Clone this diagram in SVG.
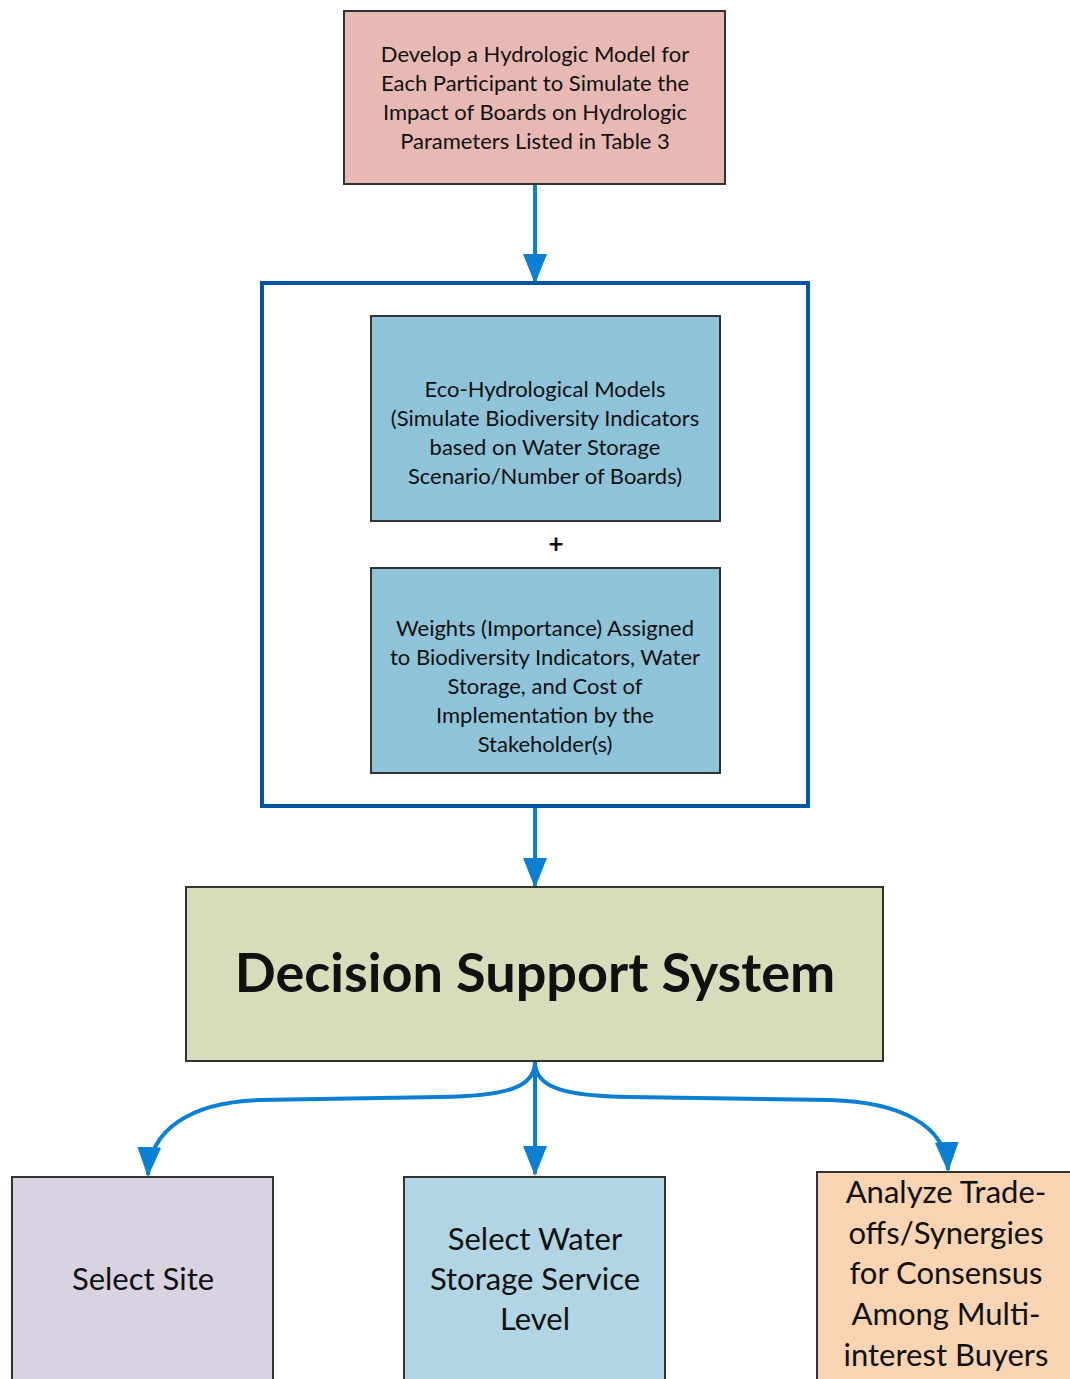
<svg xmlns="http://www.w3.org/2000/svg" width="1070" height="1379" viewBox="0 0 1070 1379">
<defs>
<style>
.t{font-family:Lato,"Open Sans","Liberation Sans",sans-serif;fill:#111;text-anchor:middle}
.s{font-size:22px}
.b{font-size:31px}
.box{stroke:#333;stroke-width:2}
.con{fill:none;stroke:#0a7fd4;stroke-width:4}
</style>
<marker id="ad" markerUnits="userSpaceOnUse" markerWidth="30" markerHeight="24" refX="28" refY="12" orient="auto" viewBox="0 0 30 24">
<path d="M0,0 L30,12 L0,24 Z" fill="#0a7fd4"/>
</marker>
</defs>
<rect width="1070" height="1379" fill="#ffffff"/>
<g id="connectors">
<path class="con" d="M535,184 L535,282" marker-end="url(#ad)"/>
<path class="con" d="M535,808 L535,886" marker-end="url(#ad)"/>
<path class="con" d="M535,1062 L535,1174" marker-end="url(#ad)"/>
<path class="con" d="M535,1062 C535,1088 505,1096 440,1097 L260,1100 C190,1102 150,1130 148,1175" marker-end="url(#ad)"/>
<path class="con" d="M535,1062 C535,1088 565,1096 630,1097 L830,1100 C900,1102 946,1125 948,1170" marker-end="url(#ad)"/>
</g>
<g id="hydro">
<rect class="box" x="344" y="11" width="381" height="173" fill="#e8b9b4"/>
<text class="t s" x="535" y="62">Develop a Hydrologic Model for</text>
<text class="t s" x="535" y="91">Each Participant to Simulate the</text>
<text class="t s" x="535" y="120">Impact of Boards on Hydrologic</text>
<text class="t s" x="535" y="149">Parameters Listed in Table 3</text>
</g>
<g id="frame">
<rect x="262" y="283" width="546" height="523" fill="none" stroke="#0055a5" stroke-width="4"/>
</g>
<g id="eco">
<rect class="box" x="371" y="316" width="349" height="205" fill="#8fc3d9"/>
<text class="t s" x="545" y="397">Eco-Hydrological Models</text>
<text class="t s" x="545" y="426">(Simulate Biodiversity Indicators</text>
<text class="t s" x="545" y="455">based on Water Storage</text>
<text class="t s" x="545" y="484">Scenario/Number of Boards)</text>
</g>
<g id="plus">
<text class="t" x="556" y="553" font-size="26" font-weight="bold">+</text>
</g>
<g id="weights">
<rect class="box" x="371" y="568" width="349" height="205" fill="#8fc3d9"/>
<text class="t s" x="545" y="636">Weights (Importance) Assigned</text>
<text class="t s" x="545" y="665">to Biodiversity Indicators, Water</text>
<text class="t s" x="545" y="694">Storage, and Cost of</text>
<text class="t s" x="545" y="723">Implementation by the</text>
<text class="t s" x="545" y="752">Stakeholder(s)</text>
</g>
<g id="dss">
<rect class="box" x="186" y="887" width="697" height="174" fill="#d8dcbb"/>
<text class="t" x="535" y="992" font-size="54" font-weight="bold">Decision Support System</text>
</g>
<g id="site">
<rect class="box" x="12" y="1177" width="261" height="210" fill="#d9d2e0"/>
<text class="t b" x="143" y="1290">Select Site</text>
</g>
<g id="water">
<rect class="box" x="404" y="1177" width="261" height="210" fill="#b1d5e5"/>
<text class="t b" x="535" y="1250">Select Water</text>
<text class="t b" x="535" y="1290">Storage Service</text>
<text class="t b" x="535" y="1330">Level</text>
</g>
<g id="trade">
<rect class="box" x="817" y="1172" width="260" height="215" fill="#f9d4b3"/>
<text class="t b" x="946" y="1203">Analyze Trade-</text>
<text class="t b" x="946" y="1244">offs/Synergies</text>
<text class="t b" x="946" y="1284">for Consensus</text>
<text class="t b" x="946" y="1325">Among Multi-</text>
<text class="t b" x="946" y="1366">interest Buyers</text>
</g>
</svg>
